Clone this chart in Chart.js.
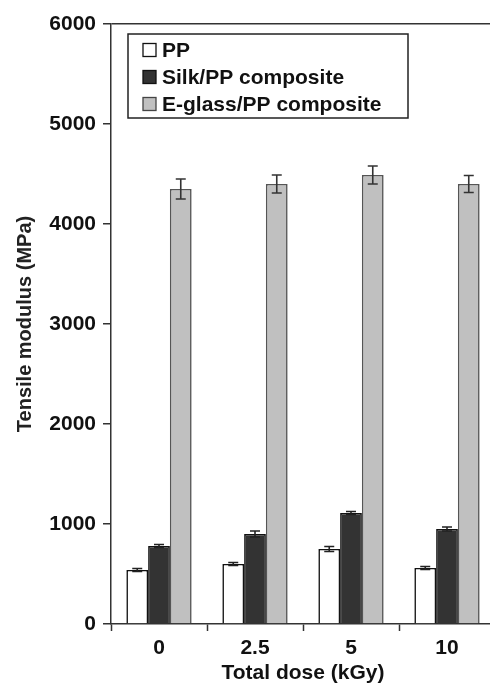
<!DOCTYPE html>
<html>
<head>
<meta charset="utf-8">
<script src="https://cdn.jsdelivr.net/npm/chart.js@4.4.1/dist/chart.umd.min.js"></script>
<style>
  html, body { margin: 0; padding: 0; background: #fff; overflow: hidden; }
  #wrap { position: relative; width: 500px; height: 691px; }
</style>
</head>
<body>
<div id="wrap"><canvas id="c" width="500" height="691"></canvas></div>
<script>
const categories = ['0', '2.5', '5', '10'];
const seriesNames = ['PP', 'Silk/PP composite', 'E-glass/PP composite'];
const ppValues = [540, 600, 750, 560];
const ppErrors = [15, 15, 25, 15];
const silkValues = [780, 900, 1110, 950];
const silkErrors = [15, 30, 15, 20];
const glassValues = [4350, 4400, 4490, 4400];
const glassErrors = [100, 90, 90, 85];
const yTicks = [0, 1000, 2000, 3000, 4000, 5000, 6000];

const FONT = "'Liberation Sans', Arial, sans-serif";
const fillColors = ['#ffffff', '#333333', '#c0c0c0'];
const borderColors = ['#111111', '#111111', '#555555'];
const errColors = ['#222222', '#222222', '#333333'];

const errorBarPlugin = {
  id: 'errorBars',
  afterDatasetsDraw(chart) {
    const ctx = chart.ctx;
    const y = chart.scales.y;
    chart.data.datasets.forEach((ds, di) => {
      const meta = chart.getDatasetMeta(di);
      meta.data.forEach((bar, i) => {
        const v = ds.data[i], e = ds.errors[i];
        const yTop = y.getPixelForValue(v + e);
        const yBot = y.getPixelForValue(v - e);
        const cap = 5;
        ctx.save();
        ctx.strokeStyle = errColors[di];
        ctx.lineWidth = 1.6;
        ctx.beginPath();
        ctx.moveTo(bar.x, yTop); ctx.lineTo(bar.x, yBot);
        ctx.moveTo(bar.x - cap, yTop); ctx.lineTo(bar.x + cap, yTop);
        ctx.moveTo(bar.x - cap, yBot); ctx.lineTo(bar.x + cap, yBot);
        ctx.stroke();
        ctx.restore();
      });
    });
  }
};

const legendPlugin = {
  id: 'boxLegend',
  afterDraw(chart) {
    const ctx = chart.ctx;
    const a = chart.chartArea;
    const bx = a.left + 17, by = a.top + 10, bw = 280, bh = 84;
    ctx.save();
    ctx.fillStyle = '#fff';
    ctx.fillRect(bx, by, bw, bh);
    ctx.strokeStyle = '#222';
    ctx.lineWidth = 1.5;
    ctx.strokeRect(bx, by, bw, bh);
    ctx.font = 'bold 21px ' + FONT;
    ctx.textBaseline = 'middle';
    seriesNames.forEach((name, i) => {
      const cy = by + 16 + i * 27;
      const mx = bx + 15, ms = 13;
      ctx.fillStyle = fillColors[i];
      ctx.fillRect(mx, cy - ms / 2, ms, ms);
      ctx.strokeStyle = i === 2 ? '#444' : '#111';
      ctx.lineWidth = 1.3;
      ctx.strokeRect(mx, cy - ms / 2, ms, ms);
      ctx.fillStyle = '#111';
      ctx.fillText(name, mx + ms + 6, cy + 1);
    });
    ctx.restore();
  }
};

new Chart(document.getElementById('c'), {
  type: 'bar',
  data: {
    labels: categories,
    datasets: [
      { label: seriesNames[0], data: ppValues, errors: ppErrors },
      { label: seriesNames[1], data: silkValues, errors: silkErrors },
      { label: seriesNames[2], data: glassValues, errors: glassErrors }
    ].map((d, i) => Object.assign(d, {
      backgroundColor: fillColors[i],
      borderColor: borderColors[i],
      borderWidth: 1.6,
      barPercentage: 1.0,
      categoryPercentage: 0.68
    }))
  },
  options: {
    responsive: false,
    animation: false,
    devicePixelRatio: 1,
    layout: { padding: { left: 0, right: 5, top: 24, bottom: 0 } },
    plugins: { legend: { display: false }, tooltip: { enabled: false } },
    scales: {
      x: {
        grid: { display: true, offset: true, drawOnChartArea: false, tickLength: 7, tickColor: '#333', tickWidth: 1.5 },
        border: { display: true, color: '#333', width: 1.5 },
        ticks: { color: '#111', font: { family: FONT, size: 21, weight: 'bold' }, padding: 5 },
        title: { display: true, text: 'Total dose (kGy)', color: '#111', font: { family: FONT, size: 21, weight: 'bold' }, padding: { top: 0, bottom: 5 } },
        afterFit(s) { s.height = 67; }
      },
      y: {
        min: 0, max: 6000,
        afterBuildTicks(s) { s.ticks = yTicks.map(v => ({ value: v })); },
        grid: {
          color: (c) => (c.tick && c.tick.value === 6000 ? '#333' : 'rgba(0,0,0,0)'),
          lineWidth: 1.5,
          tickLength: 8, tickColor: '#333', tickWidth: 1.5
        },
        border: { display: true, color: '#333', width: 1.5 },
        ticks: { color: '#111', font: { family: FONT, size: 21, weight: 'bold' }, padding: 7, callback: (v) => String(v) },
        title: { display: true, text: 'Tensile modulus (MPa)', color: '#222', font: { family: FONT, size: 20, weight: 'bold' }, padding: { top: 13, bottom: 0 } },
        afterFit(s) { s.width = 111; }
      }
    }
  },
  plugins: [errorBarPlugin, legendPlugin]
});
</script>
</body>
</html>
